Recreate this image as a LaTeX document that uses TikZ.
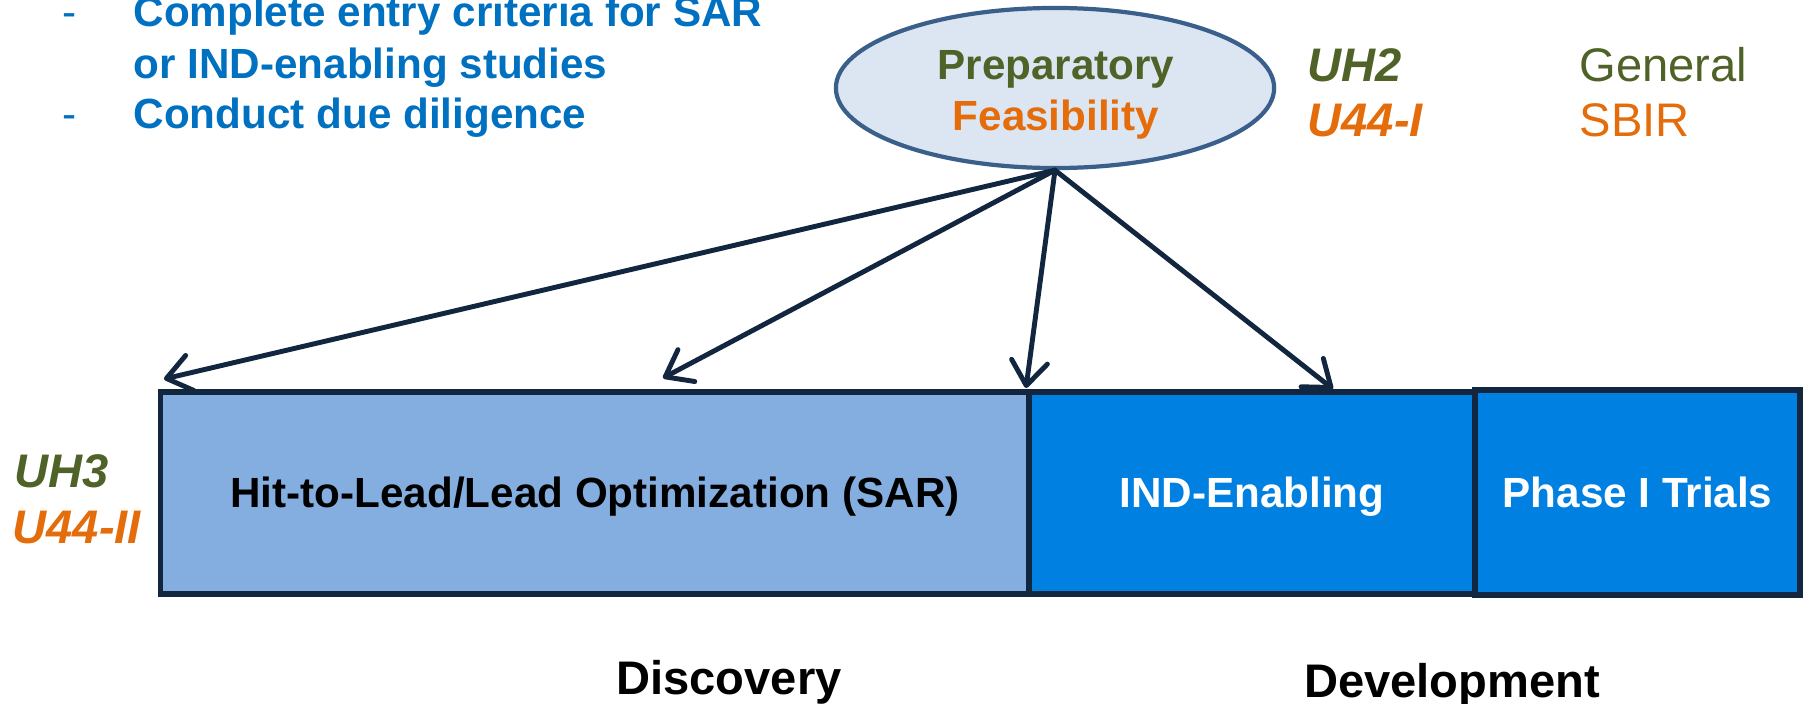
\documentclass[tikz,border=0pt]{standalone}
\usepackage{fontspec}
\setmainfont{Liberation Sans}
\usetikzlibrary{shapes,arrows.meta,positioning}

\definecolor{bulletblue}{HTML}{0070C0}
\definecolor{olivegreen}{HTML}{4F6228}
\definecolor{fundorange}{HTML}{E46C0A}
\definecolor{ovalfill}{HTML}{DCE6F2}
\definecolor{ovalline}{HTML}{3A5F8B}
\definecolor{sarfill}{HTML}{84AEE0}
\definecolor{devfill}{HTML}{0080E0}
\definecolor{navy}{HTML}{12263F}

\tikzset{
 stagebox/.style={draw=navy, line width=1.5pt, inner sep=0pt, text height=11.5pt, text depth=3pt, font=\fontsize{12}{14}\selectfont\bfseries},
 bullettext/.style={anchor=base west, inner sep=0pt, text=bulletblue, font=\fontsize{12}{14}\selectfont\bfseries},
 granttext/.style={anchor=base west, inner sep=0pt, font=\fontsize{13.4}{16}\selectfont\bfseries\itshape},
 mechtext/.style={anchor=base west, inner sep=0pt, font=\fontsize{13.4}{16}\selectfont},
 phasetext/.style={anchor=base, inner sep=0pt, font=\fontsize{13.4}{16}\selectfont\bfseries},
 feedarrow/.style={draw=navy, line width=1.4pt, line cap=round, -{Straight Barb[length=0.24cm,width=0.36cm,round]}}
}

\begin{document}
\begin{tikzpicture}[x=0.01cm, y=-0.01cm]
 \useasboundingbox (0,0) rectangle (1806,703);

 % bullet list
 \node[bullettext, font=\fontsize{12}{14}\selectfont] (dash1) at (62,27) {-};
 \node[bullettext] (crit1) at (133,27) {Complete entry criteria for SAR};
 \node[bullettext] (crit2) at (133,78) {or IND-enabling studies};
 \node[bullettext, font=\fontsize{12}{14}\selectfont] (dash2) at (62,128) {-};
 \node[bullettext] (dilig) at (133,128) {Conduct due diligence};

 % oval
 \node[ellipse, draw=ovalline, fill=ovalfill, line width=1.2pt, minimum width=4.38cm, minimum height=1.6cm, inner sep=0pt] (prep) at (1055,88) {};
 \node[anchor=base, inner sep=0pt, text=olivegreen, font=\fontsize{12}{14}\selectfont\bfseries] (prepa) at (1056,80) {Preparatory};
 \node[anchor=base, inner sep=0pt, text=fundorange, font=\fontsize{12}{14}\selectfont\bfseries] (feas) at (1056,130) {Feasibility};

 % legend
 \node[granttext, text=olivegreen] (uh2) at (1307,81) {UH2};
 \node[granttext, text=fundorange] (u44i) at (1307,136) {U44-I};
 \node[mechtext, text=olivegreen] (gen) at (1579,81) {General};
 \node[mechtext, text=fundorange] (sbir) at (1579,136) {SBIR};

 % stages
 \node[stagebox, fill=sarfill, minimum width=8.68cm, minimum height=2.02cm] (sar) at (595,493) {Hit-to-Lead/Lead Optimization (SAR)};
 \node[stagebox, fill=devfill, text=white, minimum width=4.46cm, minimum height=2.02cm] (ind) at (1252,493) {IND-Enabling};
 \node[stagebox, fill=devfill, text=white, minimum width=3.25cm, minimum height=2.05cm] (ph1) at (1637.5,492.5) {Phase I Trials};

 \node[granttext, text=olivegreen] (uh3) at (14,487) {UH3};
 \node[granttext, text=fundorange] (u44ii) at (12,543) {U44-II};

 \node[phasetext] (disc) at (729,694) {Discovery};
 \node[phasetext] (devel) at (1452,697) {Development};

 % arrows
 \coordinate (tip1) at (164,379);
 \coordinate (tip2) at (663,378);
 \coordinate (tip3) at (1026,388);
 \coordinate (tip4) at (1333,389);
 \draw[feedarrow] (prep.south) -- (tip1);
 \draw[feedarrow] (prep.south) -- (tip2);
 \draw[feedarrow] (prep.south) -- (tip3);
 \draw[feedarrow] (prep.south) -- (tip4);
\end{tikzpicture}
\end{document}
